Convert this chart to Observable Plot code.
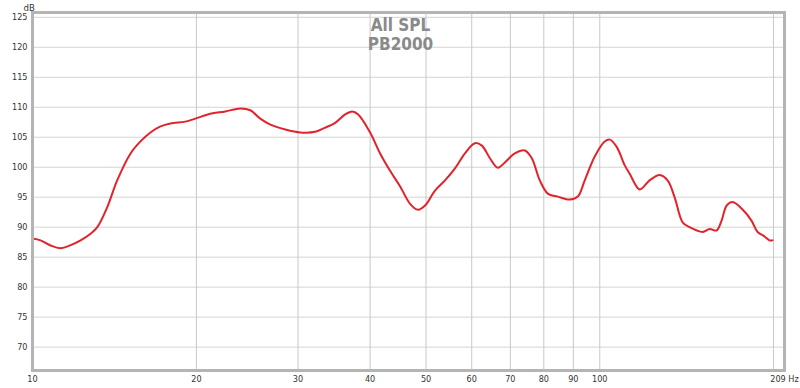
<!DOCTYPE html>
<html>
<head>
<meta charset="utf-8">
<script src="https://cdn.jsdelivr.net/npm/d3@7"></script>
<script src="https://cdn.jsdelivr.net/npm/@observablehq/plot@0.6"></script>
<style>
  html, body { margin: 0; padding: 0; background: #fff; }
  #chart svg { display: block; }
</style>
</head>
<body>
<div id="chart"></div>
<script>
// Frequency (Hz) and SPL (dB)
const freq = [10.41, 10.74, 11.18, 11.63, 12.11, 12.60, 13.11, 13.47, 14.01, 14.58, 15.38, 16.00, 16.65, 17.33, 18.03, 19.14, 19.92, 21.14, 22.45, 23.84, 24.80, 25.81, 26.86, 28.51, 30.27, 32.13, 33.44, 34.80, 36.21, 37.24, 38.14, 40.00, 41.63, 43.32, 45.09, 46.92, 48.43, 49.80, 51.82, 53.93, 56.12, 58.40, 60.77, 62.49, 64.52, 66.60, 68.48, 71.26, 74.16, 76.25, 78.73, 81.28, 84.58, 88.74, 91.60, 94.19, 98.02, 102.0, 104.1, 107.0, 110.5, 112.7, 117.3, 122.0, 127.0, 131.1, 134.8, 139.2, 143.1, 150.8, 155.0, 159.4, 162.6, 165.9, 169.9, 176.8, 183.2, 187.7, 193.0, 196.9, 199.2];
const spl = [88.1, 87.8, 86.95, 86.5, 87.0, 87.8, 88.9, 90.0, 93.3, 97.8, 102.3, 104.3, 105.8, 106.8, 107.3, 107.6, 108.1, 108.9, 109.3, 109.8, 109.5, 108.1, 107.1, 106.3, 105.8, 105.9, 106.6, 107.4, 108.8, 109.3, 108.8, 105.8, 102.3, 99.4, 96.8, 93.9, 92.9, 93.6, 96.1, 97.8, 99.8, 102.3, 104.0, 103.6, 101.5, 99.9, 100.8, 102.3, 102.8, 101.5, 97.8, 95.6, 95.1, 94.6, 95.1, 97.8, 101.8, 104.3, 104.6, 103.4, 100.3, 98.9, 96.3, 97.8, 98.7, 97.8, 95.0, 90.8, 90.0, 89.2, 89.7, 89.45, 91.1, 93.6, 94.2, 92.95, 91.1, 89.2, 88.45, 87.8, 87.8];

const xDomain = [10.4, 209];
const yDomain = [66.1, 125.8];
const xGridTicks = [20, 30, 40, 50, 60, 70, 80, 90, 100, 200];
const xLabelTicks = [10.4, 20, 30, 40, 50, 60, 70, 80, 90, 100, 209];
const xLabelText = ["10", "20", "30", "40", "50", "60", "70", "80", "90", "100", "209 Hz"];
const yTicks = [70, 75, 80, 85, 90, 95, 100, 105, 110, 115, 120, 125];
const titleLines = ["All SPL", "PB2000"];
const yUnit = "dB";

const data = freq.map((f, i) => ({f, db: spl[i]}));
const FONT = "'DejaVu Sans Condensed', 'Liberation Sans Narrow', 'DejaVu Sans', sans-serif";

const chart = Plot.plot({
  width: 800,
  height: 388,
  marginLeft: 32,
  marginRight: 16,
  marginTop: 12,
  marginBottom: 18,
  style: {fontFamily: FONT, fontSize: "9px", color: "#333", background: "#fff"},
  x: {type: "log", domain: xDomain},
  y: {domain: yDomain},
  marks: [
    Plot.gridY(yTicks, {stroke: "#d4d4d4", strokeOpacity: 1, strokeWidth: 1}),
    Plot.gridX(xGridTicks, {stroke: "#c8c8c8", strokeOpacity: 1, strokeWidth: 1}),
    Plot.axisY(yTicks, {tickSize: 0, tickPadding: 5, label: null, fill: "#333"}),
    Plot.axisX(xLabelTicks, {tickSize: 0, tickPadding: 5, label: null, fill: "#333",
      tickFormat: (d) => xLabelText[xLabelTicks.indexOf(d)]}),
    Plot.text([yUnit], {frameAnchor: "top-left", dx: -9, dy: -8, fill: "#333", fontSize: 9.5}),
    Plot.text([titleLines.join("\n")], {frameAnchor: "top", lineAnchor: "top", dx: -8, dy: 5,
      fontSize: 17, lineHeight: 1.135, fontWeight: "bold", fill: "#8a8a8a"}),
    Plot.line(data, {x: "f", y: "db", stroke: "#e3232b", strokeWidth: 2, curve: "catmull-rom"}),
    Plot.frame({stroke: "#b4b4b4", strokeWidth: 3})
  ]
});
document.getElementById("chart").append(chart);
</script>
</body>
</html>
